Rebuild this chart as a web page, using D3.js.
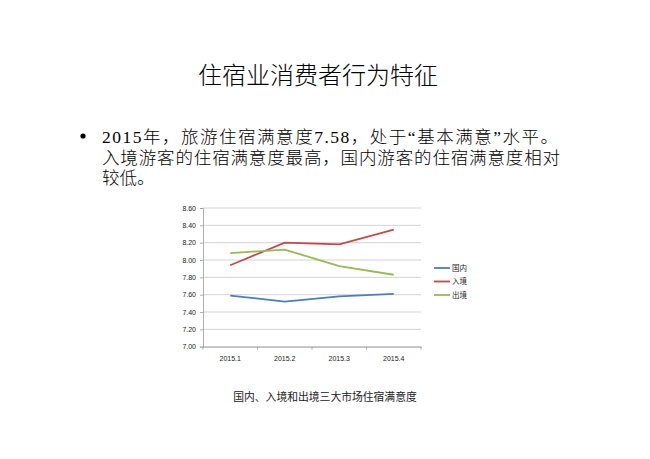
<!DOCTYPE html>
<html><head><meta charset="utf-8">
<script src="https://cdn.jsdelivr.net/npm/d3@7/dist/d3.min.js"></script>
<style>body{margin:0;background:#fff}svg{display:block}</style>
</head><body>
<svg id="c" width="650" height="459"></svg>
<script>
const categories = ["2015.1","2015.2","2015.3","2015.4"];
const seriesNames = ["国内","入境","出境"];
const domestic = [7.59, 7.52, 7.58, 7.61];
const inbound = [7.94, 8.20, 8.18, 8.35];
const outbound = [8.08, 8.12, 7.93, 7.83];
const yTicks = [7.00,7.20,7.40,7.60,7.80,8.00,8.20,8.40,8.60];
const colors = ["#4a7ebb","#be4b48","#98b954"];
const title = "住宿业消费者行为特征";
const bodyLines = ["2015年，旅游住宿满意度7.58，处于“基本满意”水平。","入境游客的住宿满意度最高，国内游客的住宿满意度相对","较低。"];
const bodyWidths = [456, 458, null];
const caption = "国内、入境和出境三大市场住宿满意度";

const svg = d3.select("#c");
const serif = "'Liberation Serif','Noto Sans CJK SC',serif";
svg.append("text").attr("x",318).attr("y",84).attr("text-anchor","middle")
  .attr("textLength",240).attr("lengthAdjust","spacing")
  .style("font-family","'Noto Sans CJK SC',sans-serif").style("font-size","24px").style("font-weight","300").attr("fill","#000").text(title);
svg.append("circle").attr("cx",83).attr("cy",136).attr("r",2.6).attr("fill","#000");
bodyLines.forEach((t,i)=>{
  const tx = svg.append("text").attr("x",102).attr("y",143+i*20.5)
    .style("font-family",serif).style("font-size","17.5px").style("font-weight","300").attr("fill","#000").text(t);
  if (bodyWidths[i]) tx.attr("textLength",bodyWidths[i]).attr("lengthAdjust","spacing");
});
svg.append("text").attr("x",325).attr("y",401).attr("text-anchor","middle")
  .style("font-family",serif).style("font-size","10.8px").attr("fill","#222").text(caption);

const x0=203, x1=421, yTop=208, yBot=346.7;
const x = d3.scaleBand().domain(categories).range([x0,x1]);
const y = d3.scaleLinear().domain([7.0,8.6]).range([yBot,yTop]);
const g = svg.append("g");
g.selectAll("line.grid").data(yTicks).join("line")
  .attr("x1",x0).attr("x2",x1).attr("y1",d=>y(d)).attr("y2",d=>y(d))
  .attr("stroke","#c8c8c8").attr("stroke-width",0.8);
const yAxis = g.append("g").attr("transform",`translate(${x0},0)`)
  .call(d3.axisLeft(y).tickValues(yTicks).tickFormat(d3.format(".2f")).tickSize(3).tickPadding(4));
const xAxis = g.append("g").attr("transform",`translate(0,${yBot})`)
  .call(d3.axisBottom(x).tickSize(0).tickPadding(9));
g.selectAll("line.bt").data(categories.concat(["_end"])).join("line")
  .attr("x1",(d,i)=>x0+i*x.bandwidth()).attr("x2",(d,i)=>x0+i*x.bandwidth())
  .attr("y1",yBot).attr("y2",yBot+3).attr("stroke","#999").attr("stroke-width",0.8);
[yAxis,xAxis].forEach(a=>{
  a.selectAll("path.domain").attr("stroke","#999").attr("stroke-width",0.8);
  a.selectAll(".tick line").attr("stroke","#999").attr("stroke-width",0.8);
  a.selectAll("text").style("font-family","'Liberation Sans',Arial,sans-serif").style("font-size","7px").attr("fill","#222");
});
const data = [domestic,inbound,outbound];
const line = d3.line().x((d,i)=>x(categories[i])+x.bandwidth()/2).y(d=>y(d));
data.forEach((s,k)=>{
  g.append("path").datum(s).attr("d",line).attr("fill","none").attr("stroke",colors[k]).attr("stroke-width",1.8);
});
seriesNames.forEach((n,k)=>{
  const ly = 268 + k*13.5;
  svg.append("line").attr("x1",434).attr("x2",450).attr("y1",ly).attr("y2",ly).attr("stroke",colors[k]).attr("stroke-width",1.8);
  svg.append("text").attr("x",452).attr("y",ly+2.5).style("font-family",serif).style("font-size","7.5px").attr("fill","#222").text(n);
});
</script>
</body></html>
